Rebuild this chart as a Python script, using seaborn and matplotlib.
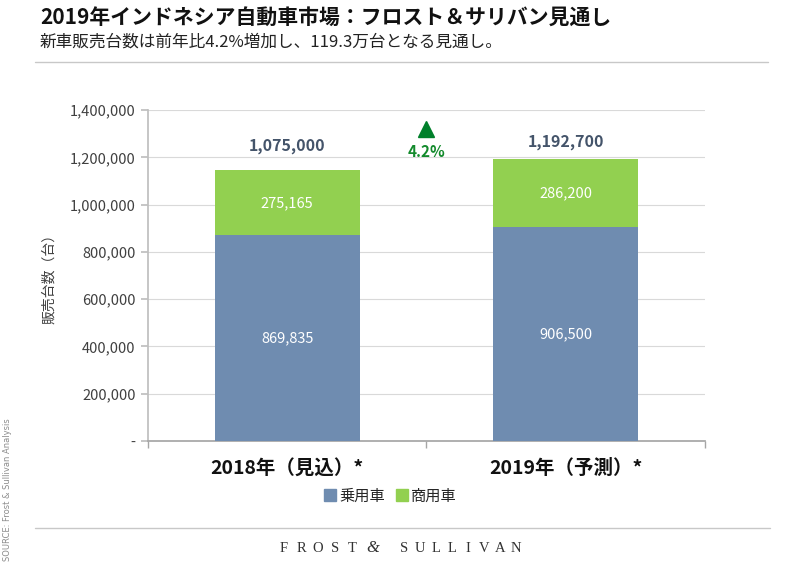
import seaborn as sns
import numpy as np
import pandas as pd
import matplotlib.pyplot as plt
import matplotlib as mpl
from matplotlib.lines import Line2D

# ---- data ----
years = ["2018年（見込）*", "2019年（予測）*"]
passenger = [869835, 906500]      # 乗用車
commercial = [275165, 286200]     # 商用車
total_labels = [1075000, 1192700]
growth = "4.2%"
yticks = [0, 200000, 400000, 600000, 800000, 1000000, 1200000, 1400000]

df = pd.DataFrame({"year": years, "passenger": passenger, "commercial": commercial})
df["stack"] = df["passenger"] + df["commercial"]

blue = "#6F8CB0"
green = "#92D050"

sns.set_theme(style="white")
plt.rcParams['font.family'] = ['Noto Sans CJK JP', 'DejaVu Sans']

fig = plt.figure(figsize=(8, 5.68), dpi=100)
ax = fig.add_axes([0.185, 0.2236, 0.696, 0.5827])

# stacked bars: total (green) first, then passenger (blue) over it
sns.barplot(data=df, x="year", y="stack", color=green, width=0.52, ax=ax,
            saturation=1, zorder=3, linewidth=0)
sns.barplot(data=df, x="year", y="passenger", color=blue, width=0.52, ax=ax,
            saturation=1, zorder=3, linewidth=0)

ax.set_ylim(0, 1400000)
ax.set_xlim(-0.5, 1.5)
ax.set_yticks(yticks)
ax.set_yticklabels(["-" if v == 0 else f"{v:,}" for v in yticks], fontsize=10.5, color="#404040")
ax.grid(axis="y", color="#D9D9D9", lw=0.8, zorder=0)
for s in ["top", "right"]:
    ax.spines[s].set_visible(False)
ax.spines["left"].set_color("#BFBFBF")
ax.spines["bottom"].set_color("#A6A6A6")
ax.tick_params(axis="y", length=5, color="#BFBFBF", left=True, pad=4)
ax.set_xticks([0, 1])
ax.set_xticklabels(years, fontsize=14, fontweight="bold", color="#111111")
ax.tick_params(axis="x", length=0, pad=13)
# category boundary ticks
ax.set_xticks([-0.5, 0.5, 1.5], minor=True)
ax.tick_params(axis="x", which="minor", length=5, color="#A6A6A6", bottom=True)
ax.set_xlabel("")
ax.set_ylabel("販売台数（台）", fontsize=10, color="#404040", labelpad=10)

# segment labels
for i in range(len(years)):
    ax.text(i, passenger[i] / 2, f"{passenger[i]:,}", ha="center", va="center",
            color="white", fontsize=10.5, zorder=5)
    ax.text(i, passenger[i] + commercial[i] / 2, f"{commercial[i]:,}", ha="center",
            va="center", color="white", fontsize=10.5, zorder=5)

# total labels
label_y = [1247000, 1265000]
for i in range(len(years)):
    ax.text(i, label_y[i], f"{total_labels[i]:,}", ha="center", va="center",
            color="#44546A", fontsize=11.5, fontweight="bold")

# growth marker
ax.plot([0.5], [1318000], marker="^", color="#00802B", markersize=11, clip_on=False)
ax.text(0.5, 1222000, growth, ha="center", va="center", color="#138A2C",
        fontsize=11, fontweight="bold")

# legend
handles = [Line2D([], [], marker="s", ls="", color=blue, markersize=8),
           Line2D([], [], marker="s", ls="", color=green, markersize=8)]
fig.legend(handles, ["乗用車", "商用車"], loc="center", bbox_to_anchor=(0.487, 1 - 496 / 568),
           ncol=2, frameon=False, fontsize=11, handletextpad=0.1, columnspacing=0.6,
           handlelength=1.0)

# title and subtitle
fig.text(0.05, 1 - 18 / 568, "2019年インドネシア自動車市場：フロスト＆サリバン見通し",
         fontsize=15, fontweight="bold", va="center", ha="left", color="#111111")
fig.text(0.05, 1 - 42 / 568, "新車販売台数は前年比4.2%増加し、119.3万台となる見通し。",
         fontsize=12, va="center", ha="left", color="#222222")

# separator lines
fig.add_artist(Line2D([35 / 800, 768 / 800], [1 - 62 / 568] * 2, color="#C8C8C8", lw=1))
fig.add_artist(Line2D([35 / 800, 770 / 800], [1 - 528 / 568] * 2, color="#C8C8C8", lw=1))

# source note
fig.text(8 / 800, 1 - 490 / 568, "SOURCE: Frost & Sullivan Analysis", rotation=90,
         fontsize=6, color="#8C8C8C", ha="center", va="center", family="DejaVu Sans")

# footer logo text, letter-spaced
fy = 1 - 548 / 568
for k, ch in enumerate("FROST"):
    fig.text((284 + k * 17) / 800, fy, ch, ha="center", va="center", fontsize=10.5,
             family="Liberation Serif", color="#333333")
fig.text(373 / 800, fy, "&", ha="center", va="center", fontsize=12,
         family="Liberation Serif", style="italic", color="#333333")
for k, ch in enumerate("SULLIVAN"):
    fig.text((404 + k * 16) / 800, fy, ch, ha="center", va="center", fontsize=10.5,
             family="Liberation Serif", color="#333333")

fig.savefig("out.png", dpi=100)
